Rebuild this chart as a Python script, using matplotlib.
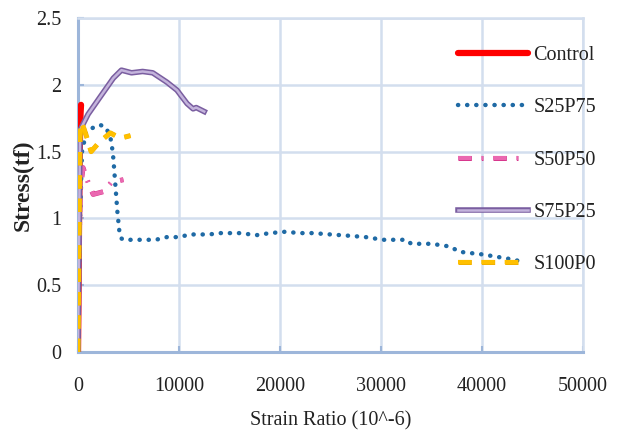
import numpy as np
import matplotlib
matplotlib.use("Agg")
import matplotlib.pyplot as plt
import matplotlib.patheffects as pe

plt.rcParams["font.family"] = ["Liberation Serif", "DejaVu Serif"]

# Data (strain in 10^-6, stress in tf)
control_x = [0, 50, 100, 150, 200, 250, 300]
control_y = [0, 0.45, 0.95, 1.35, 1.62, 1.78, 1.85]

s25p75_x = [0, 100, 200, 400, 800, 1500, 2200, 2800, 3300, 3500, 3700, 3900,
            4100, 4300, 4500, 6000, 7700, 8800, 10100, 11000, 13000, 14000,
            16000, 17700, 19000, 20500, 22000, 23300, 25000, 26900, 28500,
            30200, 32500, 33000, 35000, 36800, 37800, 40100, 42500, 43800]
s25p75_y = [0, 0.5, 1.0, 1.5, 1.64, 1.68, 1.70, 1.68, 1.58, 1.45, 1.25, 1.05,
            0.90, 0.85, 0.84, 0.84, 0.84, 0.86, 0.86, 0.88, 0.88, 0.89,
            0.89, 0.875, 0.89, 0.90, 0.89, 0.89, 0.88, 0.87, 0.86,
            0.84, 0.84, 0.81, 0.81, 0.79, 0.75, 0.73, 0.70, 0.68]

s50p50_x = [0, 100, 200, 500, 900, 1500, 2500, 3300, 4500]
s50p50_y = [0, 0.6, 1.2, 1.38, 1.29, 1.18, 1.20, 1.27, 1.29]

s75p25_x = [0, 100, 200, 1000, 2200, 3500, 4300, 5300, 6400, 7400, 8800,
            9800, 10800, 11400, 11700, 12500]
s75p25_y = [0, 0.8, 1.66, 1.78, 1.91, 2.05, 2.11, 2.09, 2.10, 2.09, 2.02,
            1.96, 1.86, 1.82, 1.83, 1.80]

s100p0_x = [0, 100, 200, 300, 600, 900, 1300, 2100, 3200, 4200, 5200]
s100p0_y = [0, 0.8, 1.6, 1.72, 1.67, 1.60, 1.50, 1.57, 1.64, 1.60, 1.62]

x_ticks = [0, 10000, 20000, 30000, 40000, 50000]
y_ticks = [0, 0.5, 1, 1.5, 2, 2.5]
y_labels = ["0", "0.5", "1", "1.5", "2", "2.5"]

grid_c = "#d3deee"
spine_c = "#9db6da"

fig = plt.figure(figsize=(6.21, 4.4), dpi=100)
ax = fig.add_axes([0.1256, 0.2, 0.813, 0.759])

ax.plot(control_x, control_y, color="#ff0000", lw=4.5,
        solid_capstyle="round", label="Control", zorder=3)
ax.plot(s25p75_x, s25p75_y, color="#1f6aa5", lw=3.2,
        linestyle=(0, (0.05, 2.0)), dash_capstyle="round",
        label="S25P75", zorder=3)
ax.plot(s50p50_x, s50p50_y, color="#ea68b0", lw=3.0,
        linestyle=(0, (3.2, 2.4, 0.4, 2.4)),
        path_effects=[pe.Stroke(linewidth=3.6, foreground="#d6338a"), pe.Normal()],
        label="S50P50", zorder=3)
ax.plot(s75p25_x, s75p25_y, color="#c4b4dc", lw=1.8,
        path_effects=[pe.Stroke(linewidth=4.0, foreground="#7a5ea0"), pe.Normal()],
        label="S75P25", zorder=3)
ax.plot(s100p0_x, s100p0_y, color="#ffc000", lw=3.0,
        linestyle=(0, (3.2, 2.4)),
        path_effects=[pe.Stroke(linewidth=3.6, foreground="#f0b000"), pe.Normal()],
        label="S100P0", zorder=3)

ax.set_xlim(0, 50000)
ax.set_ylim(0, 2.5)
ax.set_xticks(x_ticks)
ax.set_yticks(y_ticks)
ax.set_yticklabels(y_labels)
ax.grid(True, color=grid_c, lw=1.8)
ax.set_axisbelow(True)

for side in ["top", "right"]:
    ax.spines[side].set_color(grid_c)
    ax.spines[side].set_linewidth(1.8)
for side in ["left", "bottom"]:
    ax.spines[side].set_color(spine_c)
    ax.spines[side].set_linewidth(2.2)

ax.tick_params(axis="both", direction="in", length=4, width=1.5,
               color=spine_c, labelsize=14.5, labelcolor="#222222")
ax.tick_params(axis="x", pad=18)
ax.tick_params(axis="y", pad=12)

ax.set_xlabel("Strain Ratio (10^-6)", fontsize=14.5, color="#222222", labelpad=11)
ax.set_ylabel("Stress(tf)", fontsize=17, fontweight="bold", color="#222222",
              labelpad=2)

leg = ax.legend(loc="upper left", bbox_to_anchor=(458 / 621, 1 - 46 / 440),
                bbox_transform=fig.transFigure, frameon=False, fontsize=14.5,
                handlelength=3.5, handletextpad=0.25, labelspacing=1.65,
                borderpad=0, borderaxespad=0)
for t in leg.get_texts():
    t.set_color("#222222")

fig.savefig("out.png", dpi=100)
